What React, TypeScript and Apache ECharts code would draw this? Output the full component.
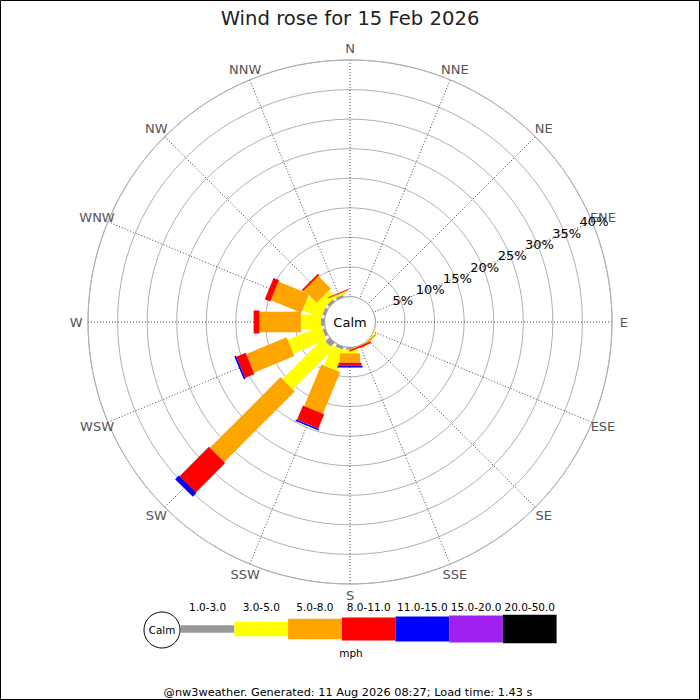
import React, { useEffect, useRef } from "react";
import * as echarts from "echarts";

const TITLE = "Wind rose for 15 Feb 2026";
const FOOTER = "@nw3weather. Generated: 11 Aug 2026 08:27; Load time: 1.43 s";
const CALM_LABEL = "Calm";
const SPEED_UNIT = "mph";
const DIRECTIONS = ["N", "NNE", "NE", "ENE", "E", "ESE", "SE", "SSE", "S", "SSW", "SW", "WSW", "W", "WNW", "NW", "NNW"];
const SPEED_BINS = ["1.0-3.0", "3.0-5.0", "5.0-8.0", "8.0-11.0", "11.0-15.0", "15.0-20.0", "20.0-50.0"];
const RING_TICKS = [5, 10, 15, 20, 25, 30, 35, 40];

// percent of time, per direction (order of DIRECTIONS), per speed bin
const BIN_1_3 = [0, 0, 0, 0, 0, 0, 0, 0, 0.4, 0.5, 1.0, 0.5, 0.6, 0.5, 0.5, 0.4];
const BIN_3_5 = [0, 0, 0, 0, 0, 0.1, 0.1, 0, 0.6, 3.7, 9.6, 6.1, 3.4, 3.4, 1.5, 0.3];
const BIN_5_8 = [0, 0, 0, 0, 0, 0, 0.3, 0.1, 1.6, 7.6, 16.9, 7.4, 7.0, 5.6, 3.0, 0.15];
const BIN_8_11 = [0, 0, 0, 0, 0, 0, 0, 0.25, 0.5, 2.6, 7.0, 1.7, 1.0, 1.0, 0.3, 0.15];
const BIN_11_15 = [0, 0, 0, 0, 0, 0, 0, 0, 0.3, 0.3, 0.9, 0.3, 0, 0, 0, 0];
const BIN_15_20 = [0, 0, 0, 0, 0, 0, 0, 0, 0, 0, 0, 0, 0, 0, 0, 0];
const BIN_20_50 = [0, 0, 0, 0, 0, 0, 0, 0, 0, 0, 0, 0, 0, 0, 0, 0];

const BINS = [BIN_1_3, BIN_3_5, BIN_5_8, BIN_8_11, BIN_11_15, BIN_15_20, BIN_20_50];

// styles
const COLORS = ["#999999", "#ffff00", "#ffa500", "#ff0000", "#0000ff", "#a020f0", "#000000"];
const BAR_WIDTHS = [7.7, 14.7, 20.3, 23, 25, 27, 28.7];
const FONT = "DejaVu Sans";
const DIR_LABEL_R = 42;
const LEG_X0 = 180.7;
const LEG_W = 53.7;
const LEG_CY = 629;
const SECTOR = 360 / DIRECTIONS.length;
const dirAngle = (i: number) => i * SECTOR;

function buildOption() {
  const series: any[] = BINS.map((vals, b) => {
    const bases = vals.map((_, i) => {
      let s = 0;
      for (let k = 0; k < b; k++) s += BINS[k][i];
      return s;
    });
    return {
      type: "custom",
      coordinateSystem: "polar",
      name: SPEED_BINS[b],
      silent: true,
      z: 3,
      data: vals.map((v, i) => [bases[i] + v, dirAngle(i)]),
      renderItem: (params: any, api: any) => {
        const i = params.dataIndex;
        const base = bases[i];
        const top = base + vals[i];
        if (vals[i] <= 0) return null;
        const cs = params.coordSys;
        const p0 = api.coord([base, dirAngle(i)]);
        const p1 = api.coord([top, dirAngle(i)]);
        let dx = p1[0] - cs.cx;
        let dy = p1[1] - cs.cy;
        const len = Math.hypot(dx, dy) || 1;
        dx /= len;
        dy /= len;
        const hw = BAR_WIDTHS[b] / 2;
        const nx = -dy * hw;
        const ny = dx * hw;
        return {
          type: "polygon",
          shape: {
            points: [
              [p0[0] + nx, p0[1] + ny],
              [p1[0] + nx, p1[1] + ny],
              [p1[0] - nx, p1[1] - ny],
              [p0[0] - nx, p0[1] - ny],
            ],
          },
          style: { fill: COLORS[b], stroke: null },
        };
      },
    };
  });

  const textStyle = (text: string, fill: string, size: number) => ({
    text,
    fill,
    fontSize: size,
    fontFamily: FONT,
    align: "center",
    verticalAlign: "middle",
    textAlign: "center",
    textVerticalAlign: "middle",
  });

  series.push({
    type: "custom",
    coordinateSystem: "polar",
    silent: true,
    z: 4,
    data: DIRECTIONS.map((_, i) => [DIR_LABEL_R, dirAngle(i)]),
    renderItem: (params: any, api: any) => {
      const p = api.coord([DIR_LABEL_R, dirAngle(params.dataIndex)]);
      return { type: "text", x: p[0], y: p[1], style: textStyle(DIRECTIONS[params.dataIndex], "#555555", 13) };
    },
  });

  const eneAngle = dirAngle(DIRECTIONS.indexOf("ENE"));
  series.push({
    type: "custom",
    coordinateSystem: "polar",
    silent: true,
    z: 5,
    data: RING_TICKS.map((v) => [v, eneAngle]),
    renderItem: (params: any, api: any) => {
      const v = RING_TICKS[params.dataIndex];
      const p = api.coord([v, eneAngle]);
      return { type: "text", x: p[0] + 2, y: p[1], style: textStyle(v + "%", "#000000", 13) };
    },
  });

  series.push({
    type: "custom",
    coordinateSystem: "polar",
    silent: true,
    z: 6,
    data: [[0, 0]],
    renderItem: (params: any) => {
      const cs = params.coordSys;
      return { type: "text", x: cs.cx, y: cs.cy, style: textStyle(CALM_LABEL, "#000000", 13) };
    },
  });

  const txt = (text: string, x: number, y: number, size: number) => ({
    type: "text",
    x,
    y,
    silent: true,
    style: textStyle(text, "#000000", size),
  });

  const graphic: any[] = [
    {
      type: "rect",
      silent: true,
      shape: { x: 0.5, y: 0.5, width: 699, height: 699 },
      style: { fill: "none", stroke: "#000000", lineWidth: 1 },
    },
    ...SPEED_BINS.map((_, b) => ({
      type: "rect",
      silent: true,
      shape: { x: LEG_X0 + b * LEG_W, y: LEG_CY - BAR_WIDTHS[b] / 2, width: LEG_W, height: BAR_WIDTHS[b] },
      style: { fill: COLORS[b] },
    })),
    {
      type: "circle",
      silent: true,
      shape: { cx: 162, cy: 630, r: 18 },
      style: { fill: "#ffffff", stroke: "#000000", lineWidth: 1 },
    },
    txt(CALM_LABEL, 162, 630, 10.4),
    ...SPEED_BINS.map((lab, b) => txt(lab, LEG_X0 + (b + 0.5) * LEG_W, 607, 10.5)),
    txt(SPEED_UNIT, 351, 653, 10.5),
    txt(FOOTER, 348, 692, 11.3),
  ];

  return {
    animation: false,
    backgroundColor: "#ffffff",
    title: {
      text: TITLE,
      left: "center",
      top: 3,
      textStyle: { fontSize: 19.6, fontWeight: "normal", color: "#222222", fontFamily: FONT },
    },
    polar: { center: [350, 322], radius: [25.4, 262] },
    angleAxis: {
      type: "value",
      min: 0,
      max: 360,
      interval: SECTOR,
      startAngle: 90,
      clockwise: true,
      axisLine: { show: true, lineStyle: { color: "#b0b0b0", width: 1 } },
      axisTick: { show: false },
      axisLabel: { show: false },
      splitLine: { show: true, lineStyle: { color: "#444444", width: 1, type: [1, 2] } },
    },
    radiusAxis: {
      type: "value",
      min: 0,
      max: 40,
      interval: 5,
      axisLine: { show: false },
      axisTick: { show: false },
      axisLabel: { show: false },
      splitLine: { show: true, lineStyle: { color: "#b0b0b0", width: 1 } },
    },
    series,
    graphic,
  };
}

export default function App() {
  const ref = useRef<HTMLDivElement>(null);
  useEffect(() => {
    document.body.style.margin = "0";
    if (!ref.current) return;
    const chart = echarts.init(ref.current, undefined, { renderer: "svg" });
    chart.setOption(buildOption() as any);
    return () => chart.dispose();
  }, []);
  return (
    <div
      ref={ref}
      style={{ position: "absolute", left: 0, top: 0, width: 700, height: 700, background: "#fff" }}
    />
  );
}
